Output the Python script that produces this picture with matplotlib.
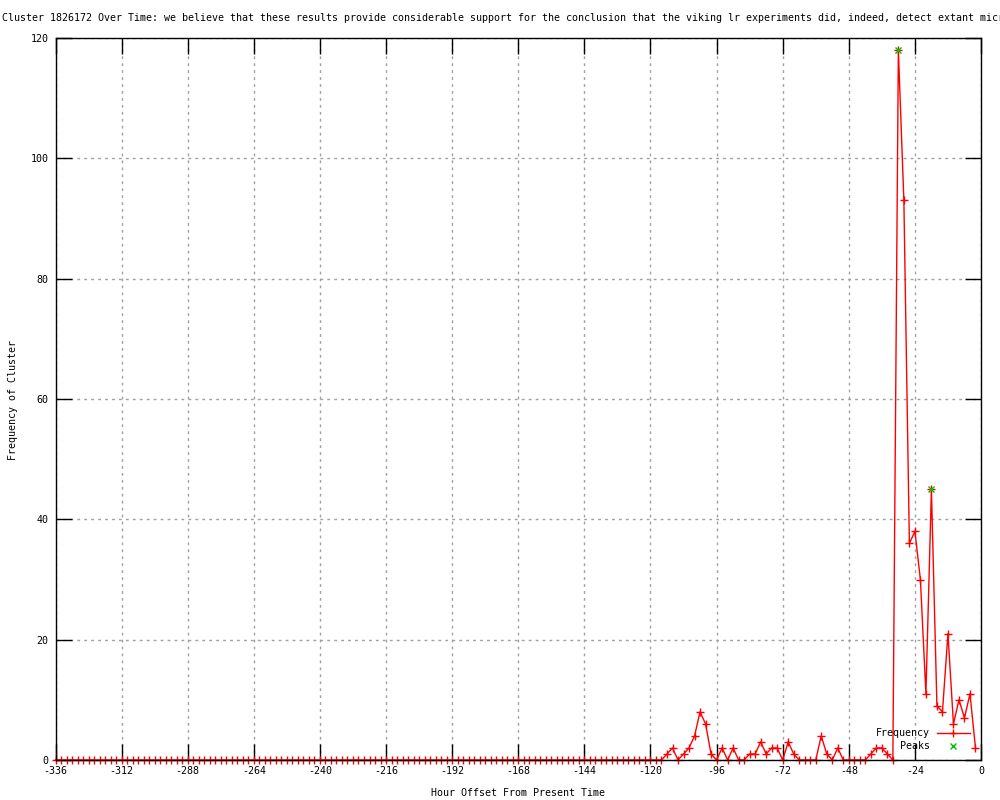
import matplotlib
matplotlib.use("Agg")
import matplotlib.pyplot as plt
from matplotlib.lines import Line2D

# ---- data ----
hours = list(range(-336, 0, 2))  # -336 ... -2
nonzero = {
    -114: 1, -112: 2, -110: 0, -108: 1, -106: 2, -104: 4, -102: 8, -100: 6,
    -98: 1, -96: 0, -94: 2, -92: 0, -90: 2, -88: 0, -86: 0, -84: 1, -82: 1,
    -80: 3, -78: 1, -76: 2, -74: 2, -72: 0, -70: 3, -68: 1, -66: 0, -64: 0,
    -62: 0, -60: 0, -58: 4, -56: 1, -54: 0, -52: 2, -50: 0, -48: 0, -46: 0,
    -44: 0, -42: 0, -40: 1, -38: 2, -36: 2, -34: 1, -32: 0, -30: 118,
    -28: 93, -26: 36, -24: 38, -22: 30, -20: 11, -18: 45, -16: 9, -14: 8,
    -12: 21, -10: 6, -8: 10, -6: 7, -4: 11, -2: 2,
}
frequency = [nonzero.get(h, 0) for h in hours]
peak_hours = [-30, -18]
peak_values = [118, 45]

x_ticks = list(range(-336, 1, 24))
y_ticks = list(range(0, 121, 20))

title = ("Cluster 1826172 Over Time: we believe that these results provide considerable "
         "support for the conclusion that the viking lr experiments did, indeed, detect "
         "extant microbial life on mars")
xlabel = "Hour Offset From Present Time"
ylabel = "Frequency of Cluster"

# ---- plot ----
FONT = "DejaVu Sans Mono"
FS = 7.2
plt.rcParams["font.family"] = [FONT]

fig = plt.figure(figsize=(10, 8), dpi=100)
ax = fig.add_axes([0.0555, 0.05, 0.9255, 0.9025])

ax.plot(hours, frequency, color="red", lw=1, marker="+", ms=5.5, mew=1,
        clip_on=False, zorder=3, label="Frequency")
ax.plot(peak_hours, peak_values, color="#00c000", lw=0, marker="x", ms=4.5,
        mew=1, clip_on=False, zorder=4, label="Peaks")

ax.set_xlim(-336, 0)
ax.set_ylim(0, 120)
ax.set_xticks(x_ticks)
ax.set_yticks(y_ticks)
ax.set_xticklabels([str(t) for t in x_ticks])
ax.tick_params(direction="in", length=11.5, width=1, top=True, right=True,
               labelsize=FS, color="black")
ax.tick_params(axis="x", pad=4.5)
ax.tick_params(axis="y", pad=5)
ax.grid(True, color="#a0a0a0", lw=1, linestyle=(0, (2, 3)))
ax.set_axisbelow(True)
for s in ax.spines.values():
    s.set_linewidth(1)
    s.set_color("black")
    s.set_zorder(5)

fig.text(0.002, 0.9775, title, ha="left", va="center", fontsize=FS)
fig.text(0.518, 0.009, xlabel, ha="center", va="center", fontsize=FS)
fig.text(0.013, 0.5, ylabel, ha="center", va="center", rotation=90, fontsize=FS)

handles = [Line2D([], [], color="red", lw=1, marker="+", ms=5.5),
           Line2D([], [], color="#00c000", lw=0, marker="x", ms=4.5)]
ax.legend(handles, ["Frequency", "Peaks"], loc="lower right",
          bbox_to_anchor=(0.988, 0.012), frameon=False, markerfirst=False,
          fontsize=FS, handlelength=3.3, handletextpad=0.7, labelspacing=0.3,
          numpoints=1, borderaxespad=0, borderpad=0)

fig.savefig("out.png", dpi=100)
